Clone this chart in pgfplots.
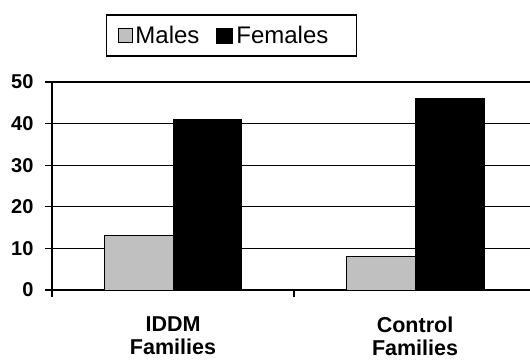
\documentclass[border=0pt]{standalone}
\usepackage{pgfplots}
\pgfplotsset{compat=1.18}
\usepackage{fontspec}
\setmainfont{Liberation Sans}
\definecolor{malegray}{RGB}{192,192,192}
\begin{document}
\begin{tikzpicture}
\path[use as bounding box] (0,0) rectangle (530bp,360bp);
\begin{axis}[
  at={(52bp,70bp)}, anchor=south west,
  scale only axis, width=478bp, height=208bp,
  xmin=-0.5, xmax=1.475, ymin=0, ymax=50,
  axis lines*=left,
  axis line style={line width=1.4bp, black},
  ybar, bar width=0.285,
  ytick={0,10,20,30,40,50},
  ymajorgrids, grid style={black, line width=1.1bp},
  tick align=outside, major tick length=7bp,
  y tick style={black, line width=1.2bp},
  yticklabel style={font=\fontsize{20bp}{22bp}\selectfont\bfseries, /pgf/number format/assume math mode=true, xshift=-8bp},
  xtick={-0.5,0.5}, xticklabels={},
  x tick style={black, line width=1.2bp},
  extra x ticks={0,1},
  extra x tick labels={{IDDM\\Families},{Control\\Families}},
  extra x tick style={major tick length=0pt, xmajorgrids=false,
    xticklabel style={align=center, font=\fontsize{21.5bp}{23bp}\selectfont\bfseries, yshift=-23bp}},
  legend columns=2,
  legend style={at={(0.3755,1.2236)}, anchor=center, draw=black, line width=1.2bp,
    font=\fontsize{24bp}{28bp}\selectfont,
    /tikz/every even column/.append style={column sep=14bp},
    /tikz/every odd column/.append style={column sep=0bp},
    nodes={inner xsep=3bp},
    inner xsep=11bp, inner ysep=9bp},
]
\addplot[draw=black, line width=1bp, fill=malegray, bar shift=-0.1425,
  legend image code/.code={\draw[draw=black, fill=malegray, line width=0.9bp] (0bp,-7bp) rectangle (14bp,7bp);}]
  coordinates {(0,13) (1,8)};
\addplot[draw=black, line width=1bp, fill=black, bar shift=0.1425,
  legend image code/.code={\draw[draw=black, fill=black, line width=0.9bp] (0bp,-7.5bp) rectangle (16bp,7.5bp);}]
  coordinates {(0,41) (1,46)};
\legend{Males, Females\kern14bp}
\end{axis}
\end{tikzpicture}
\end{document}
